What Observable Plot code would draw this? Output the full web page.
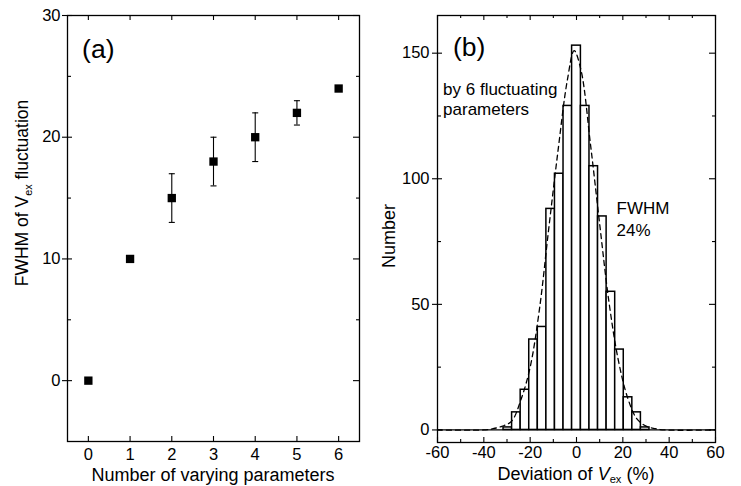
<!DOCTYPE html>
<html><head><meta charset="utf-8">
<script src="https://cdn.jsdelivr.net/npm/d3@7"></script>
<script src="https://cdn.jsdelivr.net/npm/@observablehq/plot@0.6"></script>
<style>
body{margin:0;background:#fff;}
#wrap{position:relative;width:741px;height:486px;overflow:hidden;background:#fff;}
#wrap svg{position:absolute;top:0;}
</style></head><body><div id="wrap"></div>
<script>
// ---------- Panel (a) data ----------
const nParams = [0, 1, 2, 3, 4, 5, 6];
const fwhmValues = [0, 10, 15, 18, 20, 22, 24];
const errParams = [2, 3, 4, 5];
const errLow = [13, 16, 18, 21];
const errHigh = [17, 20, 22, 23];
const aXTicks = [0, 1, 2, 3, 4, 5, 6];
const aYTicks = [0, 10, 20, 30];
const aYMinor = [5, 15, 25];

// ---------- Panel (b) data ----------
const binEdges = [-31.5, -27.8, -24.1, -20.4, -16.7, -13.0, -9.3, -5.6, -1.9, 1.9, 5.6, 9.3, 13.0, 16.7, 20.4, 24.1, 27.8, 31.5];
const binCounts = [1, 7, 16, 36, 41, 88, 102, 129, 153, 129, 105, 85, 55, 32, 13, 7, 1];
const fitX = [-60, -40, -36, -32, -28, -24, -20, -16, -12, -8, -4, -1, 2, 6, 10, 14, 18, 22, 26, 30, 34, 38, 60];
const fitY = [0, 0, 0.5, 1.5, 3.5, 12, 25, 48, 80, 111, 139, 151, 143, 114, 82, 51, 28, 13, 4.5, 1.5, 0.5, 0, 0];
const bXTicks = [-60, -40, -20, 0, 20, 40, 60];
const bXMinor = [-50, -30, -10, 10, 30, 50];
const bYTicks = [0, 50, 100, 150];
const bYMinor = [25, 75, 125];

const FONT = "'Liberation Sans', Arial, Helvetica, sans-serif";

function tickMarks(fw, fh, xMaj, xMin, yMaj, yMin) {
  const k = {stroke: "black", strokeWidth: 1.1};
  return [
    Plot.tickY(yMaj, {y: d => d, insetLeft: -5, insetRight: fw - 5, ...k}),
    Plot.tickY(yMin, {y: d => d, insetRight: fw - 4, ...k}),
    Plot.tickY(yMaj, {y: d => d, insetLeft: fw - 6, ...k}),
    Plot.tickY(yMin, {y: d => d, insetLeft: fw - 3, ...k}),
    Plot.tickX(xMaj, {x: d => d, insetTop: fh - 5, ...k}),
    Plot.tickX(xMaj, {x: d => d, insetBottom: fh - 5, ...k}),
    Plot.tickX(xMin, {x: d => d, insetTop: fh - 3, ...k}),
    Plot.tickX(xMin, {x: d => d, insetBottom: fh - 3, ...k})
  ];
}

// ---------- Panel (a) ----------
const aTable = nParams.map((n, i) => ({n, v: fwhmValues[i]}));
const errTable = errParams.map((n, i) => ({n, lo: errLow[i], hi: errHigh[i]}));
const capSymbol = {draw(ctx, size) { const w = Math.sqrt(size) / 2; ctx.moveTo(-w, 0); ctx.lineTo(w, 0); }};

const aW = 370, aH = 486, aML = 67, aMR = 11, aMT = 15, aMB = 45;
const aFW = aW - aML - aMR, aFH = aH - aMT - aMB;
const plotA = Plot.plot({
  width: aW, height: aH,
  marginLeft: aML, marginRight: aMR, marginTop: aMT, marginBottom: aMB,
  x: {domain: [-0.5, 6.5]},
  y: {domain: [-5, 30]},
  style: {fontFamily: FONT, fontSize: "16.5px", color: "black", background: "transparent"},
  marks: [
    Plot.ruleX(errTable, {x: "n", y1: "lo", y2: "hi", stroke: "black", strokeWidth: 1.1}),
    Plot.dot(errTable, {x: "n", y: "lo", symbol: capSymbol, r: 3.4, stroke: "black", strokeWidth: 1.1, fill: "none"}),
    Plot.dot(errTable, {x: "n", y: "hi", symbol: capSymbol, r: 3.4, stroke: "black", strokeWidth: 1.1, fill: "none"}),
    Plot.dot(aTable, {x: "n", y: "v", symbol: "square", r: 4.7, fill: "black", stroke: "none"}),
    Plot.frame({stroke: "black", strokeWidth: 1.3}),
    ...tickMarks(aFW, aFH, aXTicks, [], aYTicks, aYMinor),
    Plot.axisX(aXTicks, {tickSize: 0, tickPadding: 7, label: null, tickFormat: d => String(d)}),
    Plot.axisY(aYTicks, {tickSize: 0, tickPadding: 7, label: null, tickFormat: d => String(d)}),
    Plot.text(["(a)"], {x: -0.15, y: 26.5, text: d => d, textAnchor: "start", lineAnchor: "bottom", fontSize: 26.5})
  ]
});

// ---------- Panel (b) ----------
const bins = binCounts.map((c, i) => ({x1: binEdges[i], x2: binEdges[i + 1], c}));
const fit = fitX.map((x, i) => ({x, y: fitY[i]}));
const bW = 371, bH = 486, bML = 67, bMR = 26, bMT = 15, bMB = 44;
const bFW = bW - bML - bMR, bFH = bH - bMT - bMB;
const plotB = Plot.plot({
  width: bW, height: bH,
  marginLeft: bML, marginRight: bMR, marginTop: bMT, marginBottom: bMB,
  x: {domain: [-60, 60]},
  y: {domain: [-5, 165]},
  style: {fontFamily: FONT, fontSize: "16.5px", color: "black", background: "transparent"},
  marks: [
    Plot.rect(bins, {x1: "x1", x2: "x2", y1: 0, y2: "c", fill: "white", stroke: "black", strokeWidth: 1.5}),
    Plot.ruleY([0], {stroke: "black", strokeWidth: 1.3}),
    Plot.line(fit, {x: "x", y: "y", stroke: "black", strokeWidth: 1.3, strokeDasharray: "5,4", curve: "catmull-rom"}),
    Plot.frame({stroke: "black", strokeWidth: 1.3}),
    ...tickMarks(bFW, bFH, bXTicks, bXMinor, bYTicks, bYMinor),
    Plot.axisX(bXTicks, {tickSize: 0, tickPadding: 4, label: null, tickFormat: d => String(d)}),
    Plot.axisY(bYTicks, {tickSize: 0, tickPadding: 8, label: null, tickFormat: d => String(d)}),
    Plot.text(["(b)"], {x: -53.3, y: 149, text: d => d, textAnchor: "start", lineAnchor: "bottom", fontSize: 26.5}),
    Plot.text(["by 6 fluctuating\nparameters"], {x: -57.6, y: 125.5, text: d => d, textAnchor: "start", lineAnchor: "bottom", fontSize: 17, lineHeight: 1.18}),
    Plot.text(["FWHM\n24%"], {x: 17.3, y: 77.3, text: d => d, textAnchor: "start", lineAnchor: "bottom", fontSize: 17, lineHeight: 1.3})
  ]
});

const wrap = document.getElementById("wrap");
plotA.style.left = "0px";
plotB.style.left = "370px";
wrap.appendChild(plotA);
wrap.appendChild(plotB);

// rich-text axis labels (italic / subscript)
function richLabel(svg, x, y, rotate, parts, size, subShift) {
  const t = d3.select(svg).append("text")
    .attr("transform", `translate(${x},${y})` + (rotate ? " rotate(-90)" : ""))
    .attr("text-anchor", "middle")
    .attr("font-family", FONT)
    .attr("font-size", size)
    .attr("fill", "black");
  for (const p of parts) {
    const s = t.append("tspan").text(p.t);
    if (p.italic) s.attr("font-style", "italic");
    if (p.sub) s.attr("font-size", size * 0.62).attr("dy", subShift);
    if (p.after) s.attr("dy", -subShift);
  }
}
richLabel(plotA, 28, 193, true, [{t: "FWHM of "}, {t: "V"}, {t: "ex", sub: true}, {t: " fluctuation", after: true}], 17.5, 4);
richLabel(plotA, 213, 481, false, [{t: "Number of varying parameters"}], 18, 0);
richLabel(plotB, 25, 236, true, [{t: "Number"}], 18, 0);
richLabel(plotB, 206, 480, false, [{t: "Deviation of "}, {t: "V", italic: true}, {t: "ex", sub: true}, {t: " (%)", after: true}], 18, 2.5);
</script></body></html>
